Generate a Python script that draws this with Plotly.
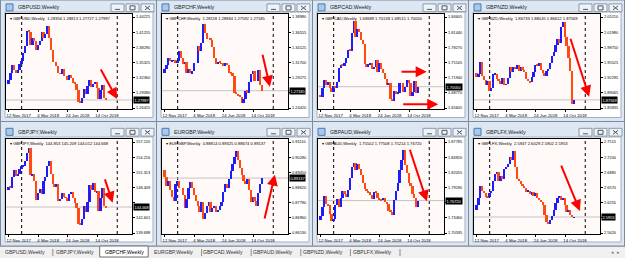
import plotly.graph_objects as go

W, H = 625, 258

# ---------------- data ----------------
weeks = list(range(54))                     # weekly bars 12 Nov 2017 .. 18 Nov 2018
date_tick_pos = [0, 16, 32, 48]
date_tick_text = ["12 Nov 2017", "4 Mar 2018", "24 Jun 2018", "14 Oct 2018"]
year_separators = [7, 59]                   # 31 Dec 2017, 30 Dec 2018

symbols = ["GBPUSD", "GBPCHF", "GBPCAD", "GBPNZD", "GBPJPY", "EURGBP", "GBPAUD", "GBPLFX"]
digits = [5, 5, 5, 5, 3, 5, 5, 4]

gbpusd_close = [1.3195, 1.3325, 1.3475, 1.3390, 1.3325, 1.3380, 1.3495, 1.3565, 1.3720, 1.3860,
                1.4155, 1.4130, 1.3875, 1.4020, 1.3955, 1.3775, 1.3880, 1.3950, 1.4120, 1.4010,
                1.4085, 1.4240, 1.4010, 1.3770, 1.3535, 1.3535, 1.3465, 1.3320, 1.3315, 1.3410,
                1.3270, 1.3270, 1.3200, 1.3280, 1.3230, 1.3135, 1.3110, 1.3000, 1.2760, 1.2745,
                1.2840, 1.3005, 1.2920, 1.3075, 1.3200, 1.3045, 1.3115, 1.3150, 1.3040, 1.2820,
                1.3000, 1.3090, 1.2836, 1.27997]
gbpchf_close = [1.3060, 1.3130, 1.3240, 1.3190, 1.3195, 1.3200, 1.3170, 1.3200, 1.3360, 1.3250,
                1.3150, 1.3180, 1.3000, 1.3060, 1.3000, 1.3030, 1.3170, 1.3170, 1.3430, 1.3360,
                1.3490, 1.3780, 1.3650, 1.3550, 1.3550, 1.3530, 1.3420, 1.3250, 1.3150, 1.3180,
                1.3160, 1.3150, 1.3120, 1.3170, 1.3130, 1.3010, 1.3000, 1.2950, 1.2690, 1.2660,
                1.2640, 1.2620, 1.2530, 1.2580, 1.2720, 1.2690, 1.2860, 1.2980, 1.3030, 1.2880,
                1.2880, 1.3050, 1.2812, 1.27185]
gbpcad_close = [1.6800, 1.6975, 1.7140, 1.7040, 1.7100, 1.6980, 1.6890, 1.7010, 1.6980, 1.7100,
                1.7400, 1.7460, 1.7430, 1.7500, 1.7600, 1.7780, 1.7750, 1.8130, 1.8380, 1.8040,
                1.8220, 1.8150, 1.7990, 1.7890, 1.7470, 1.7420, 1.7470, 1.7510, 1.7380, 1.7420,
                1.7560, 1.7320, 1.7500, 1.7370, 1.7300, 1.7160, 1.7050, 1.7080, 1.6750, 1.6700,
                1.6920, 1.6860, 1.6880, 1.7090, 1.7090, 1.6900, 1.6990, 1.7150, 1.7080, 1.6820,
                1.6900, 1.7130, 1.6869, 1.70050]
gbpnzd_close = [1.9250, 1.9310, 1.9560, 1.9270, 1.9170, 1.9080, 1.9150, 1.8950, 1.9020, 1.9300,
                1.9310, 1.9200, 1.9150, 1.9100, 1.9220, 1.9080, 1.9090, 1.9220, 1.9450, 1.9350,
                1.9460, 1.9410, 1.9500, 1.9380, 1.9450, 1.9400, 1.9350, 1.9200, 1.9150, 1.9130,
                1.9250, 1.9350, 1.9500, 1.9470, 1.9550, 1.9400, 1.9330, 1.9260, 1.9380, 1.9420,
                1.9550, 1.9700, 1.9780, 1.9920, 2.0050, 1.9960, 2.0300, 2.0420, 2.0100, 1.9900,
                1.9650, 1.9380, 1.8673, 1.87569]
gbpjpy_close = [148.60, 148.30, 150.40, 151.70, 150.60, 151.00, 152.00, 152.50, 152.60, 153.40,
                155.00, 155.90, 150.80, 151.00, 149.60, 146.10, 147.40, 148.20, 147.20, 149.60,
                150.50, 152.60, 153.40, 150.90, 149.00, 148.50, 149.00, 145.80, 146.20, 147.40,
                146.50, 146.40, 145.80, 147.10, 147.50, 146.40, 145.40, 144.40, 141.50, 141.30,
                142.30, 144.80, 143.70, 145.60, 148.90, 147.90, 149.20, 147.50, 147.80, 144.00,
                146.40, 148.30, 144.853, 144.668]
eurgbp_close = [0.8920, 0.8870, 0.8900, 0.8850, 0.8810, 0.8790, 0.8880, 0.8900, 0.8860, 0.8860,
                0.8820, 0.8750, 0.8800, 0.8860, 0.8890, 0.8860, 0.8820, 0.8790, 0.8760, 0.8730,
                0.8780, 0.8690, 0.8720, 0.8760, 0.8780, 0.8730, 0.8750, 0.8760, 0.8730, 0.8740,
                0.8760, 0.8780, 0.8840, 0.8880, 0.8860, 0.8910, 0.8950, 0.8990, 0.9030, 0.9060,
                0.9010, 0.8970, 0.8930, 0.8900, 0.8880, 0.8910, 0.8850, 0.8780, 0.8810, 0.8790,
                0.8760, 0.8830, 0.8881, 0.89137]
gbpaud_close = [1.7380, 1.7550, 1.7760, 1.7600, 1.7580, 1.7420, 1.7280, 1.7320, 1.7580, 1.7700,
                1.7560, 1.7720, 1.7860, 1.7790, 1.7740, 1.7870, 1.8100, 1.8300, 1.8380, 1.8250,
                1.8360, 1.8270, 1.8150, 1.8000, 1.7900, 1.7850, 1.7830, 1.7780, 1.7700, 1.7840,
                1.7820, 1.7720, 1.7700, 1.7680, 1.7720, 1.7650, 1.7600, 1.7480, 1.7450, 1.7400,
                1.7680, 1.7850, 1.8000, 1.8250, 1.8430, 1.8620, 1.8350, 1.8200, 1.8000, 1.7950,
                1.7800, 1.7720, 1.7550, 1.76720]
gbplfx_close = [2.6200, 2.6350, 2.6600, 2.6500, 2.6450, 2.6380, 2.6360, 2.6450, 2.6500, 2.6700,
                2.6850, 2.6900, 2.6700, 2.6800, 2.6750, 2.6950, 2.7000, 2.7050, 2.7200, 2.7150,
                2.7330, 2.7000, 2.6750, 2.6700, 2.6650, 2.6600, 2.6550, 2.6480, 2.6500, 2.6430,
                2.6470, 2.6400, 2.6450, 2.6350, 2.6300, 2.6260, 2.6200, 2.6000, 2.5850, 2.5800,
                2.5900, 2.5980, 2.6100, 2.6250, 2.6350, 2.6400, 2.6300, 2.6350, 2.6200, 2.6050,
                2.6100, 2.6000, 2.5947, 2.5953]
closes = [gbpusd_close, gbpchf_close, gbpcad_close, gbpnzd_close,
          gbpjpy_close, eurgbp_close, gbpaud_close, gbplfx_close]
first_open = [1.3110, 1.3000, 1.6830, 1.9320, 148.00, 0.8960, 1.7300, 2.6100]

header_ohlc = ["1.28356 1.28813 1.27727 1.27997",
               "1.28118 1.28884 1.27592 1.27185",
               "1.68689 1.70138 1.68515 1.70050",
               "1.86733 1.88045 1.86612 1.87569",
               "144.853 145.209 144.012 144.668",
               "0.88814 0.89325 0.88674 0.89137",
               "1.75502 1.77508 1.75214 1.76720",
               "2.5947 2.6029 2.5902 2.5953"]

price_ticks = [
    [1.44225, 1.41255, 1.38290, 1.35325, 1.32360, 1.29390, 1.26425],
    [1.38980, 1.36555, 1.34125, 1.31700, 1.29275, 1.26845, 1.24420],
    [1.84605, 1.81440, 1.78270, 1.75105, 1.71940, 1.68770, 1.65605],
    [2.05210, 2.01980, 1.98750, 1.95525, 1.92295, 1.89065, 1.85835],
    [157.120, 154.216, 151.313, 148.409, 145.505, 142.601, 139.698],
    [0.91110, 0.90280, 0.89450, 0.88620, 0.87790, 0.86960, 0.86130],
    [1.87785, 1.84920, 1.82055, 1.79190, 1.76325, 1.73460, 1.70595],
    [2.7515, 2.7200, 2.6885, 2.6570, 2.6255, 2.5940, 2.5620],
]

# red hand-drawn arrows: (x_tail, y_tail, x_head, y_head) in bar index / price
arrows = [
    [(49.6, 1.3425, 58.9, 1.2819)],
    [(53.0, 1.3317, 57.2, 1.2783)],
    [(43.1, 1.7318, 57.6, 1.7318), (44.0, 1.6638, 63.9, 1.6638)],
    [(50.7, 2.0089, 61.1, 1.8824)],
    [(52.0, 150.25, 56.5, 145.51)],
    [(54.1, 0.86836, 59.9, 0.89324)],
    [(48.2, 1.8661, 57.7, 1.7658)],
    [(45.6, 2.7056, 56.1, 2.6080)],
]

tabs = ["GBPUSD,Weekly", "GBPJPY,Weekly", "GBPCHF,Weekly", "EURGBP,Weekly",
        "GBPCAD,Weekly", "GBPAUD,Weekly", "GBPNZD,Weekly", "GBPLFX,Weekly"]
active_tab = 2

# ---------------- layout constants ----------------
FONT = "Liberation Sans"
BULL = "#1c1cff"
BEAR = "#ff4a14"
FRAME = "#dde7f3"
FRAME_LINE = "#7d8a9b"
CHART_BG = "#fffaf8"

cols_x = [1, 157, 313, 469]
rows = [dict(top=0, ty=7.4, ct=14, cb=109, bot=121.5),
        dict(top=121.5, ty=131.8, ct=139, cb=234, bot=246)]
PX_PER_BAR = 1.838
BAR0 = 7.8          # local x of bar 0
CH_L, CH_R = 5, 131.3


def X(p):
    return p / W


def Y(p):
    return 1 - p / H


fig = go.Figure()
shapes = []
ann = []
lay = {}

for k, sym in enumerate(symbols):
    c, r = k % 4, k // 4
    wx = cols_x[c]
    R = rows[r]
    top, ty, ct, cb, bot = R["top"], R["ty"], R["ct"], R["cb"], R["bot"]
    n = k + 1
    xa = "x" if n == 1 else f"x{n}"
    ya = "y" if n == 1 else f"y{n}"

    # window frame
    shapes.append(dict(type="rect", xref="paper", yref="paper", layer="below",
                       x0=X(wx - 0.5), x1=X(wx + 155.5), y0=Y(bot), y1=Y(top),
                       fillcolor=FRAME, line=dict(color=FRAME_LINE, width=1)))
    shapes.append(dict(type="rect", xref="paper", yref="paper", layer="below",
                       x0=X(wx + 4), x1=X(wx + 152), y0=Y(bot - 4), y1=Y(ct - 2),
                       fillcolor="#ffffff", line=dict(color="#a5b0be", width=1)))
    shapes.append(dict(type="rect", xref="paper", yref="paper", layer="below",
                       x0=X(wx + CH_L), x1=X(wx + CH_R), y0=Y(cb), y1=Y(ct),
                       fillcolor=CHART_BG, line=dict(width=0)))
    # title icon
    shapes.append(dict(type="rect", xref="paper", yref="paper", layer="below",
                       x0=X(wx + 5), x1=X(wx + 12), y0=Y(ty + 3.5), y1=Y(ty - 3.5),
                       fillcolor="#a9c9ea", line=dict(color="#4a78b0", width=1)))
    # window buttons
    for bx in (110, 125, 140):
        shapes.append(dict(type="rect", xref="paper", yref="paper", layer="below",
                           x0=X(wx + bx), x1=X(wx + bx + 13), y0=Y(ty + 4.3), y1=Y(ty - 3.5),
                           fillcolor="#eef3f9", line=dict(color="#8a97a8", width=1)))
    shapes.append(dict(type="line", xref="paper", yref="paper", layer="below",
                       x0=X(wx + 114), x1=X(wx + 119), y0=Y(ty + 2), y1=Y(ty + 2),
                       line=dict(color="#555", width=1)))
    shapes.append(dict(type="rect", xref="paper", yref="paper", layer="below",
                       x0=X(wx + 129), x1=X(wx + 134), y0=Y(ty + 2.5), y1=Y(ty - 1.5),
                       line=dict(color="#555", width=1)))
    shapes.append(dict(type="line", xref="paper", yref="paper", layer="below",
                       x0=X(wx + 144), x1=X(wx + 149), y0=Y(ty + 2.5), y1=Y(ty - 1.5),
                       line=dict(color="#555", width=1)))
    shapes.append(dict(type="line", xref="paper", yref="paper", layer="below",
                       x0=X(wx + 144), x1=X(wx + 149), y0=Y(ty - 1.5), y1=Y(ty + 2.5),
                       line=dict(color="#555", width=1)))
    ann.append(dict(xref="paper", yref="paper", x=X(wx + 15), y=Y(ty),
                    xanchor="left", yanchor="middle", showarrow=False,
                    text=f"{sym},Weekly", font=dict(family=FONT, size=5.3, color="#1a1a1a")))

    # candles (bodies)
    cl = closes[k]
    op = [first_open[k]] + cl[:-1]
    diff = [c_ - o_ for c_, o_ in zip(cl, op)]
    colors = [BULL if c_ >= o_ else BEAR for c_, o_ in zip(cl, op)]
    fig.add_trace(go.Bar(x=weeks, y=diff, base=op, width=0.95,
                         marker=dict(color=colors, line=dict(width=0)),
                         xaxis=xa, yaxis=ya, hoverinfo="skip", showlegend=False))

    # axes
    pt = price_ticks[k]
    ppx = (pt[0] - pt[-1]) / ((cb - 1) - (ct + 3))
    yr = [pt[-1] - 1 * ppx, pt[0] + 3 * ppx]
    xr = [(CH_L - BAR0) / PX_PER_BAR, (CH_R - BAR0) / PX_PER_BAR]
    # price labels hidden under the current-price box (as the terminal does)
    ptxt = [("" if abs(v - cl[-1]) / ppx < 5.5 else f"{v:.{digits[k]}f}") for v in pt]
    lay["xaxis" if n == 1 else f"xaxis{n}"] = dict(
        domain=[X(wx + CH_L), X(wx + CH_R)], range=xr, anchor=ya,
        tickmode="array", tickvals=date_tick_pos, ticktext=date_tick_text,
        ticks="outside", ticklen=2, tickwidth=1, tickcolor="#000",
        tickfont=dict(family=FONT, size=4.3, color="#000"), ticklabelshift=10,
        showline=True, linecolor="#000", linewidth=1, mirror=True,
        showgrid=False, zeroline=False, fixedrange=True)
    lay["yaxis" if n == 1 else f"yaxis{n}"] = dict(
        domain=[Y(cb), Y(ct)], range=yr, anchor=xa, side="right",
        tickmode="array", tickvals=pt, ticktext=ptxt,
        ticks="outside", ticklen=2, tickwidth=1, tickcolor="#000",
        tickfont=dict(family=FONT, size=3.9, color="#000"),
        showline=True, linecolor="#000", linewidth=1, mirror=True,
        showgrid=False, zeroline=False, fixedrange=True)

    # period separators and bid line
    for s in year_separators:
        shapes.append(dict(type="line", xref=xa, yref=f"{ya} domain", layer="below",
                           x0=s, x1=s, y0=0, y1=1, line=dict(color="#000", width=1, dash="dot")))
    shapes.append(dict(type="line", xref=f"{xa} domain", yref=ya, layer="below",
                       x0=0, x1=1, y0=cl[-1], y1=cl[-1], line=dict(color="#c4c4c4", width=1)))

    # header and price box
    ann.append(dict(xref="paper", yref="paper", x=X(wx + 7), y=Y(ct + 4.5),
                    xanchor="left", yanchor="middle", showarrow=False,
                    text=f"▾ {sym},Weekly  {header_ohlc[k]}",
                    font=dict(family=FONT, size=4.1, color="#000")))
    ann.append(dict(xref="paper", yref=ya, x=X(wx + CH_R + 1), y=cl[-1],
                    xanchor="left", yanchor="middle", showarrow=False,
                    text=f"{cl[-1]:.{digits[k]}f}", bgcolor="#000", borderpad=0.6,
                    font=dict(family=FONT, size=3.9, color="#fff")))
    for (x0, y0, x1, y1) in arrows[k]:
        ann.append(dict(xref=xa, yref=ya, axref=xa, ayref=ya, x=x1, y=y1, ax=x0, ay=y0,
                        text="", showarrow=True, arrowhead=2, arrowsize=1.1, arrowwidth=2,
                        arrowcolor="#ff0000"))

# tab bar
shapes.append(dict(type="rect", xref="paper", yref="paper", layer="below",
                   x0=0, x1=1, y0=0, y1=Y(246.5), fillcolor="#f0f0f0",
                   line=dict(width=0)))
shapes.append(dict(type="line", xref="paper", yref="paper", layer="below",
                   x0=0, x1=1, y0=Y(246.5), y1=Y(246.5), line=dict(color="#a0a0a0", width=1)))
TAB_W = 49.6
for i, t in enumerate(tabs):
    cx = 25 + i * TAB_W
    if i == active_tab:
        shapes.append(dict(type="rect", xref="paper", yref="paper", layer="below",
                           x0=X(cx - 24.5), x1=X(cx + 24), y0=Y(257), y1=Y(246),
                           fillcolor="#ffffff", line=dict(color="#707070", width=1)))
    elif i + 1 != active_tab:
        sx = cx + TAB_W / 2 + 3
        shapes.append(dict(type="line", xref="paper", yref="paper", layer="below",
                           x0=X(sx), x1=X(sx), y0=Y(256), y1=Y(249),
                           line=dict(color="#8c8c8c", width=1)))
    ann.append(dict(xref="paper", yref="paper", x=X(cx), y=Y(252.3),
                    xanchor="center", yanchor="middle", showarrow=False, text=t,
                    font=dict(family=FONT, size=5.1,
                              color="#000" if i == active_tab else "#333")))
ann.append(dict(xref="paper", yref="paper", x=X(615), y=Y(252.3), xanchor="center",
                yanchor="middle", showarrow=False, text="◂  ▸",
                font=dict(family=FONT, size=4.5, color="#777")))

fig.update_layout(width=W, height=H, margin=dict(l=0, r=0, t=0, b=0), autosize=False,
                  paper_bgcolor="#c3cfdd", plot_bgcolor="rgba(0,0,0,0)",
                  showlegend=False, bargap=0, shapes=shapes, annotations=ann,
                  font=dict(family=FONT), **lay)

fig.write_html("out.html")
